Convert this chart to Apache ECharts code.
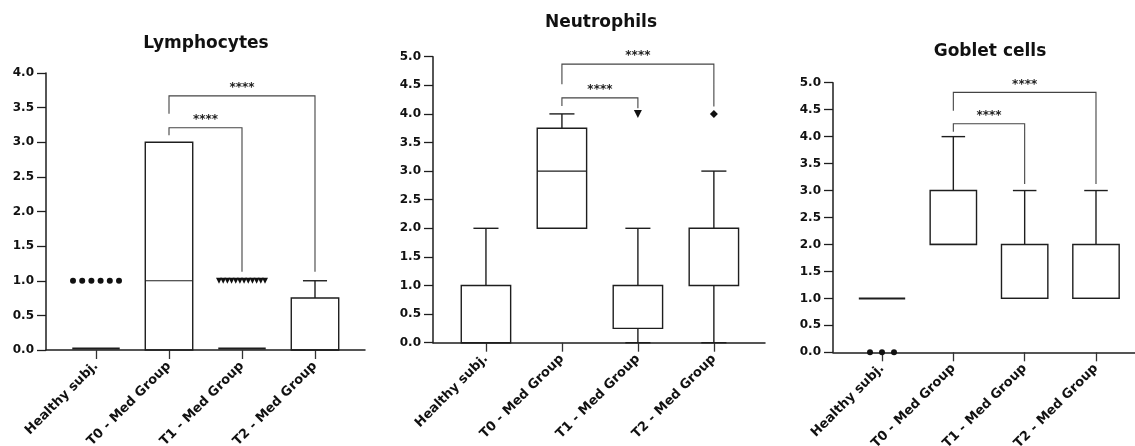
<!DOCTYPE html>
<html><head><meta charset="utf-8">
<script src="https://cdn.jsdelivr.net/npm/echarts@6/dist/echarts.min.js"></script>
<style>html,body{margin:0;padding:0;background:#fff}#c{width:1135px;height:446px}</style>
</head><body><div id="c"></div>
<script>
// ---- data ----
const categories = ['Healthy subj.', 'T0 - Med Group', 'T1 - Med Group', 'T2 - Med Group'];
const titles = ['Lymphocytes', 'Neutrophils', 'Goblet cells'];
const yMaxes = [4, 5, 5];
const yStep = 0.5;
// box stats per group: [min, Q1, median, Q3, max]
const lymphStats  = [[0,0,0,0,0],[0,0,1,3,3],[0,0,0,0,0],[0,0,0,0.75,1]];
const neutroStats = [[0,0,0,1,2],[2,2,3,3.75,4],[0,0.25,1,1,2],[0,1,1,2,3]];
const gobletStats = [[1,1,1,1,1],[2,2,2,3,4],[1,1,1,2,3],[1,1,1,2,3]];
// outlier values per group
const lymphOutliers  = [[1,1,1,1,1,1],[],[1,1,1,1,1,1,1,1,1,1,1,1],[]];
const neutroOutliers = [[],[],[4],[4]];
const gobletOutliers = [[0,0,0],[],[],[]];
// significance brackets: [fromGroup, toGroup, height, leftLegEnd, rightLegEnd]
const lymphBrackets  = [[1,2,3.21,3.10,1.13],[1,3,3.67,3.41,1.13]];
const neutroBrackets = [[1,2,4.28,4.14,4.10],[1,3,4.87,4.52,4.13]];
const gobletBrackets = [[1,2,4.24,4.09,3.12],[1,3,4.82,4.48,3.12]];
const sigLabel = '****';

// ---- layout / style ----
const FONT = 'DejaVu Sans';
const INK = '#1e1e1e';
const groupSymbols = ['circle', 'rect', 'triangle', 'diamond'];
const groupRotate = [0, 0, 180, 0];
const panels = [
  {stats: lymphStats, outliers: lymphOutliers, brackets: lymphBrackets, left: 46, top: 73, width: 319, height: 277, xMin: -0.685, xMax: 3.685, tx: 206, ty: 44, sym: 6},
  {stats: neutroStats, outliers: neutroOutliers, brackets: neutroBrackets, left: 433, top: 56.7, width: 332, height: 286, xMin: -0.697, xMax: 3.673, tx: 601, ty: 23, sym: 8},
  {stats: gobletStats, outliers: gobletOutliers, brackets: gobletBrackets, left: 833, top: 82.7, width: 312, height: 269.6, xMin: -0.687, xMax: 3.687, tx: 990, ty: 52, sym: 6}
];

function line(x1, y1, x2, y2, w) {
  return {type: 'line', shape: {x1, y1, x2, y2}, style: {stroke: INK, lineWidth: w || 1.4}};
}
function renderBox(params, api) {
  const x = api.value(0);
  const v = [1,2,3,4,5].map(i => api.value(i));
  const unit = api.size([1, 0])[0];
  const hw = unit * 0.325, cw = unit * 0.165;
  const cx = api.coord([x, 0])[0];
  const Y = val => api.coord([x, val])[1];
  const yMin = Y(v[0]), yQ1 = Y(v[1]), yMed = Y(v[2]), yQ3 = Y(v[3]), yMax = Y(v[4]);
  const ch = [];
  if (v[4] > v[3]) { ch.push(line(cx, yQ3, cx, yMax)); ch.push(line(cx - cw, yMax, cx + cw, yMax)); }
  if (v[0] < v[1]) { ch.push(line(cx, yQ1, cx, yMin)); ch.push(line(cx - cw, yMin, cx + cw, yMin)); }
  const flat = v[3] === v[1];
  ch.push({type: 'rect', shape: {x: cx - hw, y: yQ3 - (flat && v[1] === 0 ? 1.5 : 0), width: 2 * hw, height: yQ1 - yQ3},
           style: {fill: 'rgba(255,255,255,0)', stroke: INK, lineWidth: flat ? 2 : 1.4}});
  if (!flat) ch.push(line(cx - hw, yMed, cx + hw, yMed, 1.2));
  return {type: 'group', children: ch};
}
function renderBracket(params, api) {
  const a = api.value(0), b = api.value(1), h = api.value(2), l = api.value(3), r = api.value(4);
  const pA = api.coord([a, h]), pB = api.coord([b, h]);
  const lE = api.coord([a, l]), rE = api.coord([b, r]);
  return {type: 'group', children: [
    {type: 'polyline', shape: {points: [[pA[0], lE[1]], pA, pB, [pB[0], rE[1]]]},
     style: {stroke: '#444', lineWidth: 1.1, fill: null}},
    {type: 'text', x: (pA[0] + pB[0]) / 2, y: pA[1] - 8,
     style: {text: sigLabel, fill: '#222', font: 'bold 12px "' + FONT + '"', align: 'center', verticalAlign: 'middle'}}
  ]};
}

const grid = [], xAxis = [], yAxis = [], series = [], graphic = [];
panels.forEach((p, k) => {
  grid.push({left: p.left, top: p.top, width: p.width, height: p.height, containLabel: false, outerBoundsMode: 'none'});
  xAxis.push({
    type: 'value', gridIndex: k, min: p.xMin, max: p.xMax, splitLine: {show: false},
    axisLine: {show: true, onZero: false, lineStyle: {color: INK, width: 1.5}},
    axisTick: {show: true, length: 9, customValues: [0,1,2,3], lineStyle: {color: '#333', width: 1.3}},
    axisLabel: {show: true, customValues: [0,1,2,3], rotate: 45, margin: 14,
      formatter: v => categories[Math.round(v)] || '',
      fontFamily: FONT, fontWeight: 'bold', fontSize: 13, color: '#111'}
  });
  yAxis.push({
    type: 'value', gridIndex: k, min: 0, max: yMaxes[k], interval: yStep, splitLine: {show: false},
    axisLine: {show: true, onZero: false, lineStyle: {color: INK, width: 1.5}},
    axisTick: {show: true, length: 9, lineStyle: {color: INK, width: 1.3}},
    axisLabel: {margin: 12, formatter: v => v.toFixed(1), fontFamily: FONT, fontWeight: 'bold', fontSize: 12, color: '#111'}
  });
  series.push({
    type: 'custom', xAxisIndex: k, yAxisIndex: k, renderItem: renderBox,
    encode: {x: 0, y: [1,2,3,4,5]}, clip: false, silent: true,
    data: p.stats.map((s, i) => [i].concat(s))
  });
  const pts = [];
  p.outliers.forEach((vals, i) => {
    const n = vals.length;
    const sp = n > 1 ? Math.min(12, 46 / (n - 1)) : 0;
    vals.forEach((val, j) => {
      pts.push({value: [i, val], symbol: groupSymbols[i], symbolRotate: groupRotate[i],
                symbolOffset: [(j - (n - 1) / 2) * sp, 0]});
    });
  });
  series.push({
    type: 'scatter', xAxisIndex: k, yAxisIndex: k, symbolSize: p.sym, silent: true, z: 5,
    itemStyle: {color: '#111', opacity: 1}, data: pts
  });
  series.push({
    type: 'custom', xAxisIndex: k, yAxisIndex: k, renderItem: renderBracket,
    encode: {x: [0, 1], y: [2, 3, 4]}, clip: false, silent: true, data: p.brackets
  });
  graphic.push({type: 'text', x: p.tx, y: p.ty,
    style: {text: titles[k], font: 'bold 17px "' + FONT + '"', fill: '#111', align: 'center', verticalAlign: 'middle'}});
});

const chart = echarts.init(document.getElementById('c'), null, {renderer: 'canvas'});
chart.setOption({animation: false, backgroundColor: '#fff', grid, xAxis, yAxis, series, graphic});
</script>
</body></html>
